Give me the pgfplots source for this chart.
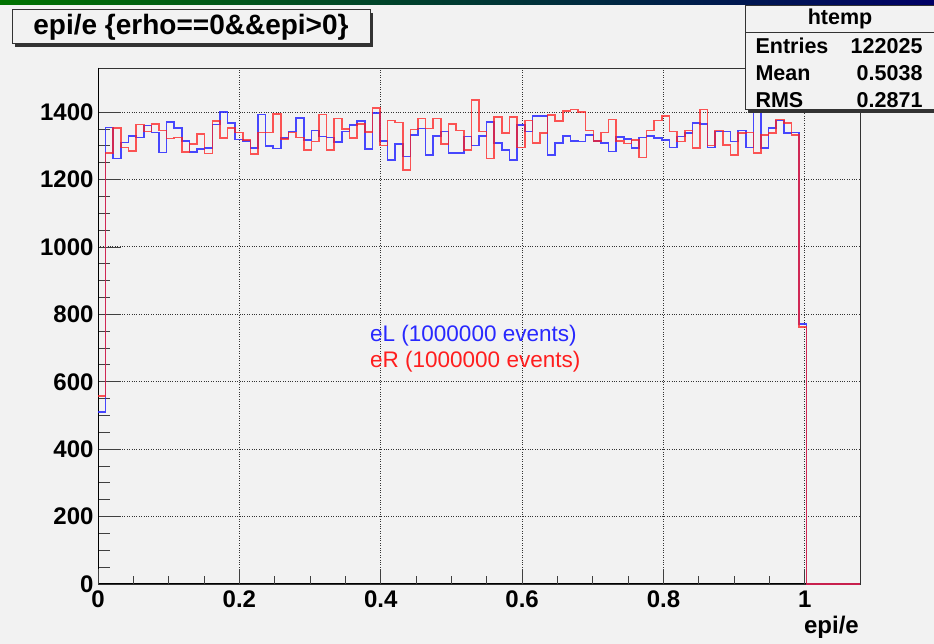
\documentclass[border=0pt]{standalone}
\usepackage{fontspec}
\setmainfont{Liberation Sans}
\usepackage{pgfplots}
\usepackage{pgfplotstable}
\pgfplotsset{compat=1.18}
\definecolor{bg}{HTML}{F2F2F2}
\definecolor{hblue}{RGB}{40,40,255}
\definecolor{hred}{RGB}{255,30,30}

\pgfplotstableread{
k blue red
0 510 557
1 1355 1278
2 1262 1353
3 1310 1295
4 1330 1285
5 1325 1363
6 1360 1342
7 1340 1365
8 1280 1345
9 1371 1322
10 1353 1325
11 1314 1281
12 1282 1305
13 1291 1335
14 1294 1277
15 1363 1373
16 1400 1323
17 1368 1353
18 1319 1340
19 1315 1318
20 1294 1276
21 1393 1340
22 1299 1340
23 1292 1395
24 1323 1321
25 1343 1340
26 1383 1325
27 1318 1288
28 1345 1313
29 1328 1393
30 1325 1288
31 1311 1381
32 1343 1350
33 1361 1323
34 1373 1365
35 1290 1341
36 1398 1413
37 1315 1301
38 1258 1375
39 1305 1369
40 1268 1228
41 1333 1348
42 1351 1381
43 1273 1351
44 1330 1381
45 1343 1305
46 1278 1365
47 1278 1346
48 1328 1288
49 1301 1436
50 1330 1343
51 1371 1263
52 1308 1386
53 1288 1338
54 1258 1385
55 1361 1295
56 1343 1375
57 1388 1308
58 1388 1338
59 1273 1391
60 1308 1373
61 1330 1403
62 1315 1408
63 1313 1401
64 1333 1345
65 1315 1315
66 1308 1340
67 1283 1378
68 1326 1315
69 1320 1307
70 1293 1318
71 1325 1265
72 1330 1345
73 1323 1375
74 1318 1388
75 1295 1343
76 1328 1313
77 1338 1346
78 1368 1293
79 1365 1408
80 1295 1301
81 1343 1345
82 1343 1303
83 1313 1273
84 1345 1338
85 1295 1340
86 1440 1278
87 1293 1333
88 1353 1338
89 1375 1378
90 1338 1368
91 1340 1333
92 772 763
93 0 0
94 0 0
95 0 0
96 0 0
97 0 0
98 0 0
99 0 0
100 0 0
}\histdata

\begin{document}
\begin{tikzpicture}[x=1pt,y=1pt]
\fill[bg] (0,0) rectangle (934,644);
\useasboundingbox (0,0) rectangle (934,644);
\shade[left color=green!45!black, right color=blue!40!black] (0,639) rectangle (934,644);

\begin{axis}[
  at={(98pt,60pt)}, anchor=south west,
  scale only axis, width=762pt, height=516pt,
  xmin=0, xmax=1.078, ymin=0, ymax=1531,
  xtick={0,0.2,0.4,0.6,0.8,1}, xticklabels={},
  ytick={0,200,400,600,800,1000,1200,1400},
  yticklabels={0,200,400,600,800,1000,1200,1400},
  minor y tick num=3,
  xmajorticks=false, xminorticks=false,
  ytick pos=left,
  tick align=inside,
  major tick length=23pt, minor tick length=12pt,
  grid=major,
  major grid style={dotted, black!80, line width=1pt},
  tick style={black!75, line width=0.9pt},
  axis line style={black!80, line width=0.8pt},
  ticklabel style={font=\fontsize{24}{24}\selectfont\bfseries},
  yticklabel style={xshift=-1pt},
]
\draw[black, line width=2pt] (rel axis cs:0,1) -- (rel axis cs:0,0) -- (rel axis cs:1,0);
\end{axis}

\begin{axis}[
  at={(98pt,60pt)}, anchor=south west,
  scale only axis, width=762pt, height=516pt,
  xmin=0, xmax=1.078, ymin=0, ymax=1531,
  clip=false,
  xtick={0,0.2,0.4,0.6,0.8,1}, minor x tick num=3,
  xticklabels={0,0.2,0.4,0.6,0.8,1}, ytick=\empty,
  xtick pos=bottom,
  tick align=inside,
  major tick length=15pt, minor tick length=8pt,
  tick style={black!75, line width=0.9pt},
  axis line style={draw=none},
  ticklabel style={font=\fontsize{24}{24}\selectfont\bfseries},
  xticklabel style={yshift=-3pt},
]
\addplot[const plot, hblue, line width=1.6pt, opacity=0.85] table[x expr=\thisrow{k}*0.01078, y=blue] {\histdata};
\addplot[const plot, hred, line width=1.6pt, opacity=0.75] table[x expr=\thisrow{k}*0.01078, y=red] {\histdata};
\end{axis}

% title box
\fill[black!80] (15,597) rectangle (373,631);
\draw[black!80, line width=1pt, fill=bg] (12,600) rectangle (370,634);
\node[font=\fontsize{28}{28}\selectfont\bfseries] at (191,617) {epi/e \{erho==0\&\&epi>0\}};

% stats box
\fill[black!80] (748,531) rectangle (940,534);
\draw[black!80, line width=1pt, fill=bg] (745,534) rectangle (940,638);
\draw[black!80, line width=1pt] (745,611) -- (934,611);
\begin{scope}[font=\fontsize{21.5}{21.5}\selectfont\bfseries]
\node at (840,625) {htemp};
\node[anchor=west] at (752,598) {Entries};
\node[anchor=east] at (926,598) {122025};
\node[anchor=west] at (752,571) {Mean};
\node[anchor=east] at (926,571) {0.5038};
\node[anchor=west] at (752,544) {RMS};
\node[anchor=east] at (926,544) {0.2871};
\end{scope}

% legend texts
\node[anchor=west, text=hblue, font=\fontsize{22.5}{22.5}\selectfont, inner sep=0pt] at (370,308) {eL (1000000 events)};
\node[anchor=west, text=hred, font=\fontsize{22.5}{22.5}\selectfont, inner sep=0pt] at (370,282) {eR (1000000 events)};

% x label
\node[anchor=east, font=\fontsize{24}{24}\selectfont\bfseries, inner sep=0pt] at (859,17) {epi/e};
\end{tikzpicture}
\end{document}
